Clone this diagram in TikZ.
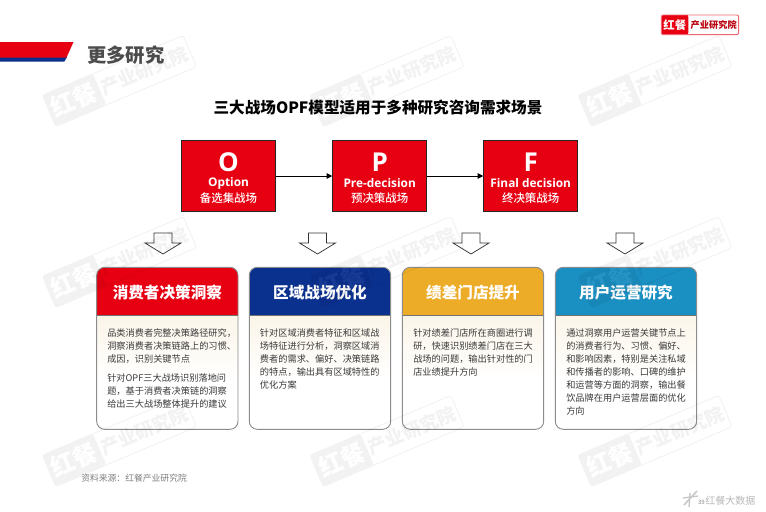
\documentclass[tikz,border=0pt]{standalone}
\usepackage{fontspec}
\setmainfont{Noto Sans CJK SC}
\newfontfamily\latinbold{Open Sans}
\newfontfamily\cjkmedium{Noto Sans CJK SC Medium}
\usetikzlibrary{arrows.meta,calc}
\definecolor{hcred}{HTML}{E60012}
\definecolor{hcblue}{HTML}{0B318F}
\definecolor{hcgold}{HTML}{EDAC27}
\definecolor{hcteal}{HTML}{1A8FC2}
\definecolor{bodytext}{HTML}{3A3A3A}
\definecolor{cream}{HTML}{FBF5E9}
\tikzset{
  opfbox/.style={draw=black!85,line width=0.7pt,fill=hcred,minimum width=70.5pt,minimum height=53.5pt,inner sep=0pt},
  opflink/.style={draw=black,line width=0.6pt,-{Triangle[length=4.2pt,width=4.2pt]}},
  hollow/.style={draw=black!80,line width=0.55pt,fill=white,line join=miter},
  cardedge/.style={draw=black!45,line width=0.7pt},
  cardtitle/.style={text=white,font=\fontsize{11.7}{14}\selectfont\bfseries,anchor=center,inner sep=0pt},
  cardtext/.style={text=bodytext,font=\fontsize{6.9}{9.75}\selectfont,anchor=north west,align=left,inner sep=0pt},
}
\newcommand{\wmark}[2]{%
  \begin{scope}[shift={(#1,#2)},rotate=23,opacity=0.05,transparency group,transform shape]
    \fill[black,rounded corners=2pt] (-76.5,-17) rectangle (-21.5,17);
    \draw[black,line width=0.7pt,rounded corners=2pt] (-76.5,-17) rectangle (76.5,17);
    \node[white,inner sep=0pt,font=\fontsize{18}{18}\selectfont\bfseries] at (-49,0) {红餐};
    \node[black,inner sep=0pt,font=\fontsize{14}{14}\selectfont\bfseries] at (27,0) {产业研究院};
  \end{scope}}
% card: x-left, x-right, header colour, title, name
\newcommand{\card}[5]{%
  \fill[white,rounded corners=6pt] (#1,267.3) rectangle (#2,429.3);
  \shade[top color=cream,bottom color=white] (#1,315.5) rectangle (#2,380);
  \fill[#3] (#1,315.5) [rounded corners=6pt] -- (#1,267.3) -- (#2,267.3) [sharp corners] -- (#2,315.5) -- cycle;
  \draw[draw=black!55,line width=0.6pt] (#1,315.5) -- (#2,315.5);
  \draw[cardedge,rounded corners=6pt] (#1,267.3) rectangle (#2,429.3);
  \node[cardtitle] (#5title) at ($(#1,292.5)!0.5!(#2,292.5)$) {#4};}
\newcommand{\hollowdown}[1]{%
  \draw[hollow] ($(#1,233)+(-9,0)$) -- ($(#1,233)+(9,0)$) -- ($(#1,243)+(9,0)$) -- ($(#1,243)+(18,0)$) -- (#1,254) -- ($(#1,243)+(-18,0)$) -- ($(#1,243)+(-9,0)$) -- cycle;}
\begin{document}
\begin{tikzpicture}[x=0.75pt,y=-0.75pt]
\useasboundingbox (0,0) rectangle (766,511);
\fill[white] (0,0) rectangle (766,511);

% header band
\fill[hcblue] (0,57) -- (67,57) -- (64.3,61.7) -- (0,61.7) -- cycle;
\fill[hcred] (0,42) -- (73.5,42) -- (66.5,57.5) -- (0,57.5) -- cycle;
\node[text=black!70,font=\fontsize{14.5}{16}\selectfont\bfseries,anchor=west,inner sep=0pt] (heading) at (87,55) {更多研究};

% logo
\fill[hcred,rounded corners=1.5pt] (661.3,15) rectangle (688.3,34.7);
\fill[hcred] (670,15) rectangle (688.3,34.7);
\draw[draw=hcred!60,line width=0.7pt,rounded corners=1.5pt] (661.3,15) rectangle (738.7,34.7);
\node[text=white,font=\fontsize{8.5}{10}\selectfont\bfseries,inner sep=0pt] (logoa) at (674.8,25) {红餐};
\node[text=hcred!80!black,font=\fontsize{6.9}{8}\selectfont\bfseries,inner sep=0pt] (logob) at (713.7,25) {产业研究院};

% title
\node[text=black,font=\fontsize{11.7}{14}\selectfont\bfseries,inner sep=0pt] (maintitle) at (378,108) {三大战场OPF模型适用于多种研究咨询需求场景};

% OPF boxes
\node[opfbox] (o) at (228.5,176) {};
\node[opfbox] (p) at (379.7,176) {};
\node[opfbox] (f) at (530.7,176) {};
\foreach \n/\L/\E/\C in {o/O/Option/备选集战场,p/P/Pre-decision/预决策战场,f/F/Final decision/终决策战场}{
  \node[text=white,font=\fontsize{19.5}{20}\latinbold\bfseries,inner sep=0pt] at ($(\n.center)+(0,-13.5)$) {\L};
  \node[text=white,font=\fontsize{8.9}{9}\latinbold\bfseries,inner sep=0pt] at ($(\n.center)+(0,7.5)$) {\E};
  \node[text=white,font=\fontsize{8.6}{9}\cjkmedium,inner sep=0pt] at ($(\n.center)+(0,22)$) {\C};
}
\draw[opflink] (o) -- (p);
\draw[opflink] (p) -- (f);

% hollow arrows
\hollowdown{163}
\hollowdown{317.5}
\hollowdown{471}
\hollowdown{625}

% cards
\card{96.7}{238}{hcred}{消费者决策洞察}{ca}
\card{249.3}{390.7}{hcblue}{区域战场优化}{cb}
\card{402.3}{543.7}{hcgold}{绩差门店提升}{cc}
\card{555.3}{696.7}{hcteal}{用户运营研究}{cd}

\node[cardtext] (ta1) at (107,328.2) {品类消费者完整决策路径研究，\\洞察消费者决策链路上的习惯、\\成因，识别关键节点};
\node[cardtext] (ta2) at (107,373.2) {针对OPF三大战场识别落地问\\题，基于消费者决策链的洞察\\给出三大战场整体提升的建议};
\node[cardtext] (tb) at (259.7,328.2) {针对区域消费者特征和区域战\\场特征进行分析，洞察区域消\\费者的需求、偏好、决策链路\\的特点，输出具有区域特性的\\优化方案};
\node[cardtext] (tc) at (413,328.2) {针对绩差门店所在商圈进行调\\研，快速识别绩差门店在三大\\战场的问题，输出针对性的门\\店业绩提升方向};
\node[cardtext] (td) at (566,328.2) {通过洞察用户运营关键节点上\\的消费者行为、习惯、偏好、\\和影响因素，特别是关注私域\\和传播者的影响、口碑的维护\\和运营等方面的洞察，输出餐\\饮品牌在用户运营层面的优化\\方向};

% footer
\node[text=black!50,font=\fontsize{6.6}{8}\selectfont,anchor=west,inner sep=0pt] (source) at (81,478.5) {资料来源：红餐产业研究院};
\draw[black!22,line width=1.2pt] (684,505) -- (697,491);
\draw[black!22,line width=1pt] (683,498) -- (698,496);
\draw[black!22,line width=1pt] (690,493) -- (689,507);
\node[text=black!28,font=\fontsize{7.5}{8}\selectfont,anchor=west,inner sep=0pt] (bdata) at (705,501) {红餐大数据};
\node[text=black!45,font=\fontsize{4.5}{5}\selectfont,anchor=east,inner sep=0pt] (pageno) at (705,502) {39};

% watermarks
\foreach \x in {119.5,387,655}{\foreach \y in {81,262,441}{\wmark{\x}{\y}}}
\end{tikzpicture}
\end{document}
